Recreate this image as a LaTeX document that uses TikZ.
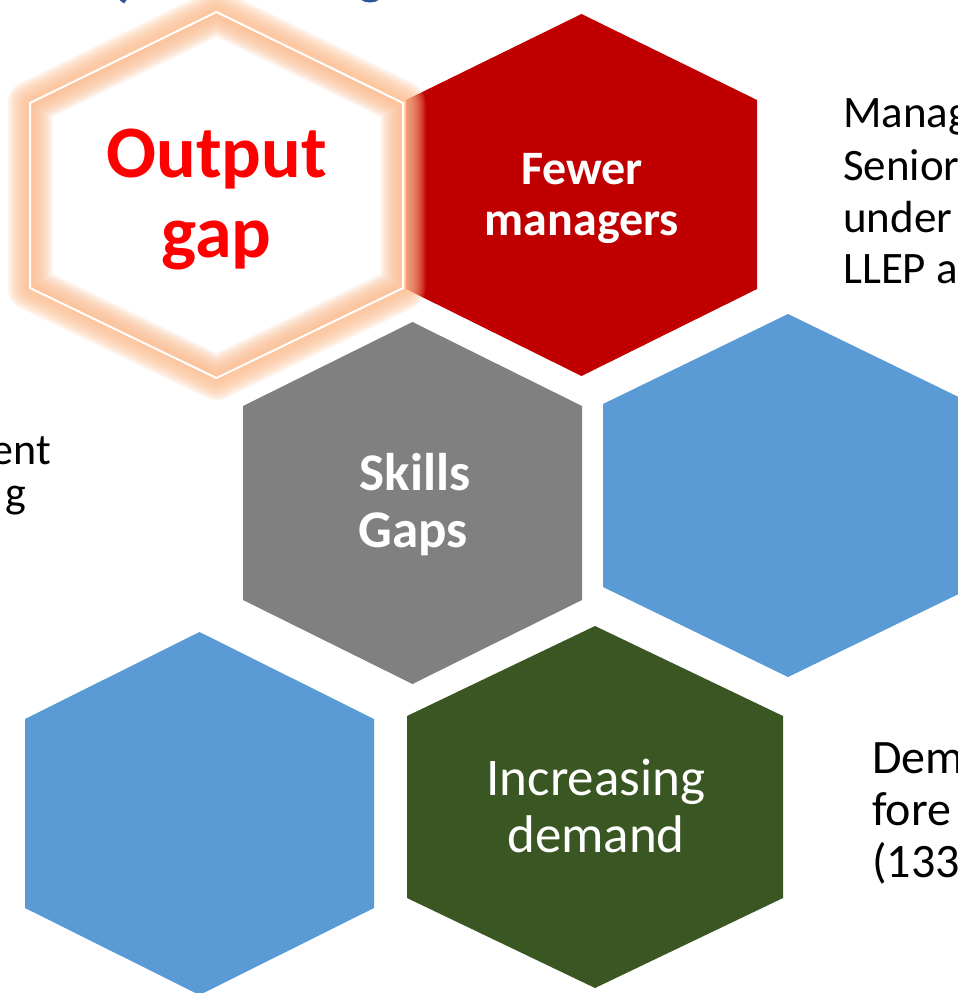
\documentclass[tikz,border=0pt]{standalone}
\usepackage{fontspec}
\setmainfont{Carlito}
\definecolor{hexred}{RGB}{192,0,0}
\definecolor{hexgray}{RGB}{128,128,128}
\definecolor{hexblue}{RGB}{91,155,213}
\definecolor{hexgreen}{RGB}{58,87,35}
\definecolor{glowc}{RGB}{251,190,145}
\definecolor{titleblue}{RGB}{47,85,151}
\newcommand\hexshape[6]{(#1,#2) -- ({#1+#3},#4) -- ({#1+#3},#5) -- (#1,#6) -- ({#1-#3},#5) -- ({#1-#3},#4) -- cycle}
\tikzset{
  hextext/.style={text=white, inner sep=0pt, anchor=base, font=\fontsize{48}{52}\selectfont\bfseries},
  bighex/.style={text=white, inner sep=0pt, anchor=base, font=\fontsize{53}{58}\selectfont\bfseries},
  hexplain/.style={text=white, inner sep=0pt, anchor=base, font=\fontsize{53}{58}\selectfont},
  outtext/.style={text=red, inner sep=0pt, anchor=base, font=\fontsize{74}{80}\selectfont\bfseries},
  sidetext/.style={text=black, inner sep=0pt, anchor=base west, font=\fontsize{45}{52}\selectfont},
  sidetextb/.style={text=black, inner sep=0pt, anchor=base west, font=\fontsize{48}{52}\selectfont},
  lefttext/.style={text=black, inner sep=0pt, anchor=base east, font=\fontsize{44}{52}\selectfont},
  glowline/.style={draw=glowc, line join=round, opacity=0.13}
}
\begin{document}
\begin{tikzpicture}[x=1pt,y=-1pt]
\useasboundingbox (0,0) rectangle (958,993);
% cut-off title descenders
\draw[titleblue, line width=5pt] (128,-6) -- (122,2);
\draw[titleblue, line width=5pt] (370,-8) ellipse [x radius=11, y radius=8];
% hexagons
\fill[hexred] \hexshape{581.5}{14}{175.5}{100}{289}{376};
\fill[hexgray] \hexshape{412.5}{322}{169.5}{406}{600}{684};
\fill[hexblue] \hexshape{788}{314}{185}{404}{587}{677};
\fill[hexblue] \hexshape{199.5}{632}{174.5}{719}{908}{995};
\fill[hexgreen] \hexshape{595}{626}{188}{716}{898}{988};
% output gap hexagon with glow
\fill[white] \hexshape{216.5}{12}{186.5}{103}{288}{378};
\foreach \w in {3,6,...,45}
  \path[glowline, line width=\w pt] \hexshape{216.5}{12}{186.5}{103}{288}{378};
\draw[white, line width=2pt] \hexshape{216.5}{12}{186.5}{103}{288}{378};
% texts
\node[outtext] (og1) at (216.5,177) {Output};
\node[outtext] (og2) at (216.5,257) {gap};
\node[hextext] (fm1) at (582,184) {Fewer};
\node[hextext] (fm2) at (582,235) {managers};
\node[bighex] (sg1) at (415,490) {Skills};
\node[bighex] (sg2) at (413,547) {Gaps};
\node[hexplain] (id1) at (596,795) {Increasing};
\node[hexplain] (id2) at (596,852) {demand};
\node[sidetext] (r1) at (843,127) {Manag};
\node[sidetext] (r2) at (843,180) {Senior};
\node[sidetext] (r3) at (843,232) {under};
\node[sidetext] (r4) at (843,283) {LLEP a};
\node[sidetextb] (b1) at (872,773) {Dem};
\node[sidetextb] (b2) at (872,825) {fore};
\node[sidetextb] (b3) at (872,877) {(133};
\node[lefttext] (l1) at (51,464) {ent};
\node[lefttext] (l2) at (26,507) {g};
\end{tikzpicture}
\end{document}
